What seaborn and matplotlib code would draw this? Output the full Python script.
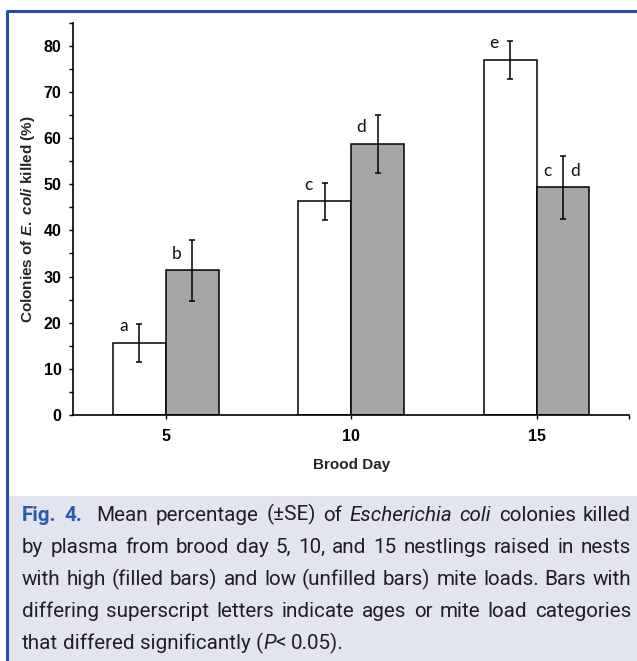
import re
import numpy as np
import pandas as pd
import seaborn as sns
import matplotlib
matplotlib.use("Agg")
import matplotlib.pyplot as plt
from matplotlib import font_manager as fm
from matplotlib.ticker import MultipleLocator, FixedLocator
from matplotlib.lines import Line2D
from matplotlib.patches import Rectangle

# ---------------- data ----------------
days = ["5", "10", "15"]
loads = ["Low", "High"]
low_mean = [15.6, 46.3, 77.0]
low_se = [4.2, 4.05, 4.1]
high_mean = [31.4, 58.75, 49.35]
high_se = [6.6, 6.35, 6.85]
low_letters = ["a", "c", "e"]
high_letters_left = ["b", "d", "c"]
high_letters_right = ["", "", "d"]
y_ticks = list(range(0, 81, 10))

caption_lines = [
    "[Fig.] [4.]  Mean percentage (\u00b1SE) of _Escherichia_ _coli_ colonies killed",
    "by plasma from brood day 5, 10, and 15 nestlings raised in nests",
    "with high (filled bars) and low (unfilled bars) mite loads. Bars with",
    "differing superscript letters indicate ages or mite load categories",
    "that differed significantly (_P_< 0.05).",
]

df = pd.DataFrame({
    "day": days * 2,
    "load": ["Low"] * 3 + ["High"] * 3,
    "value": low_mean + high_mean,
})

# ---------------- style ----------------
sns.set_style("white")
plt.rcParams["font.family"] = ["Liberation Sans", "DejaVu Sans"]
plt.rcParams["mathtext.fontset"] = "custom"
plt.rcParams["mathtext.it"] = "Liberation Sans:italic:bold"
plt.rcParams["mathtext.rm"] = "Liberation Sans:bold"

W, H = 637, 661
fig = plt.figure(figsize=(W / 100, H / 100), dpi=100)
fig.patch.set_facecolor("white")

BLUE = "#2D4B9A"
fig.add_artist(Rectangle((8.7 / W, 0), 1 - 8.7 / W, (H - 495.5) / H,
                         transform=fig.transFigure, facecolor="#E2E4F0",
                         edgecolor="none", zorder=0))
fig.add_artist(Line2D([5.8 / W, 1], [1 - 11.3 / H] * 2, transform=fig.transFigure,
                      color=BLUE, lw=2.2, solid_capstyle="butt"))
fig.add_artist(Line2D([7.3 / W] * 2, [0, 1 - 11.3 / H], transform=fig.transFigure,
                      color=BLUE, lw=2.2, solid_capstyle="butt"))

ax = fig.add_axes([73 / W, (H - 415) / H, 556.3 / W, 392.3 / H])
ax.patch.set_alpha(0)
sns.barplot(data=df, x="day", y="value", hue="load", order=days, hue_order=loads,
            palette={"Low": "white", "High": "#A6A6A6"}, saturation=1,
            edgecolor="black", linewidth=1.1, width=0.57, gap=0,
            errorbar=None, legend=False, ax=ax)

ses = {"Low": low_se, "High": high_se}
for cont, load in zip(ax.containers, loads):
    xs = [p.get_x() + p.get_width() / 2 for p in cont.patches]
    hs = [p.get_height() for p in cont.patches]
    ax.errorbar(xs, hs, yerr=ses[load], fmt="none", ecolor="black",
                elinewidth=1.1, capsize=2.4, capthick=1.1, zorder=5)
    for i, (x, h) in enumerate(zip(xs, hs)):
        if load == "Low":
            pairs = [(low_letters[i], -11.5)]
        else:
            pairs = [(high_letters_left[i], -11.5), (high_letters_right[i], 8.9)]
        for s, dx in pairs:
            if s:
                ax.annotate(s, xy=(x, h), xytext=(dx, 11.9), textcoords="offset points",
                            ha="center", va="center", fontsize=12.5,
                            family=["Lato", "DejaVu Sans"], color="#111111")

ax.set_xlim(-0.5, 2.5)
ax.set_ylim(0, 85)
ax.set_yticks(y_ticks)
ax.set_yticklabels([str(v) for v in y_ticks], fontweight="bold", fontsize=11.5)
ax.yaxis.set_minor_locator(MultipleLocator(5))
ax.set_xticks(range(len(days)))
ax.set_xticklabels(days, fontweight="bold", fontsize=11.5)
ax.xaxis.set_minor_locator(FixedLocator([2.5]))
ax.tick_params(axis="both", which="both", direction="out", length=2.8, width=1.0,
               color="black", left=True, bottom=True, labelcolor="black")
ax.tick_params(axis="y", which="both", pad=5.5)
ax.tick_params(axis="x", which="both", pad=7.5)
for side in ["top", "right"]:
    ax.spines[side].set_visible(False)
for side in ["left", "bottom"]:
    ax.spines[side].set_color("black")
    ax.spines[side].set_linewidth(1.2)

ax.set_ylabel(r"Colonies of $\it{E.\ coli}$ killed (%)", fontsize=11, fontweight="bold")
ax.yaxis.set_label_coords(-0.0809, 0.5)
ax.yaxis.label.set_va("center")
ax.set_xlabel("Brood Day", fontsize=11, fontweight="bold")
ax.xaxis.set_label_coords(0.5, (415 - 464.7) / 392.3)
ax.xaxis.label.set_va("center")

# ---------------- caption (justified) ----------------
def _wnum(w):
    if isinstance(w, str):
        return fm.weight_dict.get(w, 400)
    return w

def _stretch_num(s):
    if isinstance(s, str):
        return fm.stretch_dict.get(s, 500)
    return s

ALL = fm.fontManager.ttflist

def make_fonts(entries):
    out = {}
    for kind in ("n", "i", "f"):
        style = "italic" if kind == "i" else "normal"
        weight = 700 if kind == "f" else 400
        best, bs = None, 1e9
        for f in entries:
            sc = (0 if (f.style == style or (style == "italic" and f.style == "oblique")) else 1000) \
                 + abs(_wnum(f.weight) - weight)
            if sc < bs:
                bs, best = sc, f
        if best is None:
            return None
        out[kind] = fm.FontProperties(fname=best.fname)
    return out

options = []
for fam in ["Roboto Condensed", "Open Sans Condensed", "Noto Sans Condensed",
            "Liberation Sans Narrow", "Noto Sans", "Open Sans", "Roboto", "DejaVu Sans", "Lato"]:
    fam_entries = [f for f in ALL if f.name == fam]
    for st in sorted({_stretch_num(f.stretch) for f in fam_entries}):
        ents = [f for f in fam_entries if _stretch_num(f.stretch) == st]
        fd = make_fonts(ents)
        if fd is not None:
            options.append(fd)

COLORS = {"n": "#231F20", "i": "#231F20", "f": "#2E5AA6"}
renderer = fig.canvas.get_renderer()
FONTS = None

def mk(s, kind, fs, x=0.0, y=0.0):
    fp = FONTS[kind].copy()
    fp.set_size(fs)
    return fig.text(x / W, 1 - y / H, s, fontproperties=fp, color=COLORS[kind],
                    ha="left", va="baseline", zorder=3)

def width(s, kind, fs):
    t = mk(s, kind, fs)
    w = t.get_window_extent(renderer).width
    t.remove()
    return w

def parse(line):
    tokens = line.split(" ")
    words, weights = [], []
    pending = 0
    for tok in tokens:
        if tok == "":
            pending += 1
            continue
        if words:
            weights.append(1 + pending)
        pending = 0
        runs = []
        for part in re.split(r"(_[^_]+_|\[[^\]]+\])", tok):
            if not part:
                continue
            if part.startswith("_"):
                runs.append((part[1:-1], "i"))
            elif part.startswith("["):
                runs.append((part[1:-1], "f"))
            else:
                runs.append((part, "n"))
        words.append(runs)
    return words, weights

X0, X1 = 22.0, 631.0
BASE0, STEP = 520.7, 32.1
parsed = [parse(l) for l in caption_lines]

def line_need(words, weights, fs):
    ww = sum(width(s, k, fs) for w in words for s, k in w)
    sp = width("x x", "n", fs) - width("xx", "n", fs)
    return ww + 1.0 * sp * sum(weights)

FS0 = 15.0
best_opt, best_score, best_fs = None, 1e9, FS0
for opt in options:
    FONTS = opt
    need = max(line_need(w, g, FS0) for w, g in parsed[:-1])
    fs_fit = FS0 * 0.985 * (X1 - X0) / need
    fs_use = min(max(fs_fit, 13.5), 17.0)
    score = abs(fs_fit - FS0) + (50 if fs_fit < 13.5 else 0)
    if score < best_score:
        best_opt, best_score, best_fs = opt, score, fs_use
FONTS = best_opt
fs = best_fs

space_w = width("x x", "n", fs) - width("xx", "n", fs)
for li, (words, weights) in enumerate(parsed):
    y = BASE0 + STEP * li
    wws = [[width(s, k, fs) for s, k in w] for w in words]
    total = sum(sum(a) for a in wws)
    if li < len(parsed) - 1 and weights:
        unit = (X1 - X0 - total) / sum(weights)
    else:
        unit = space_w
    x = X0
    for wi, (w, ws) in enumerate(zip(words, wws)):
        for (s, k), rw in zip(w, ws):
            mk(s, k, fs, x, y)
            x += rw
        if wi < len(weights):
            x += unit * weights[wi]

fig.savefig("out.png", dpi=100)
